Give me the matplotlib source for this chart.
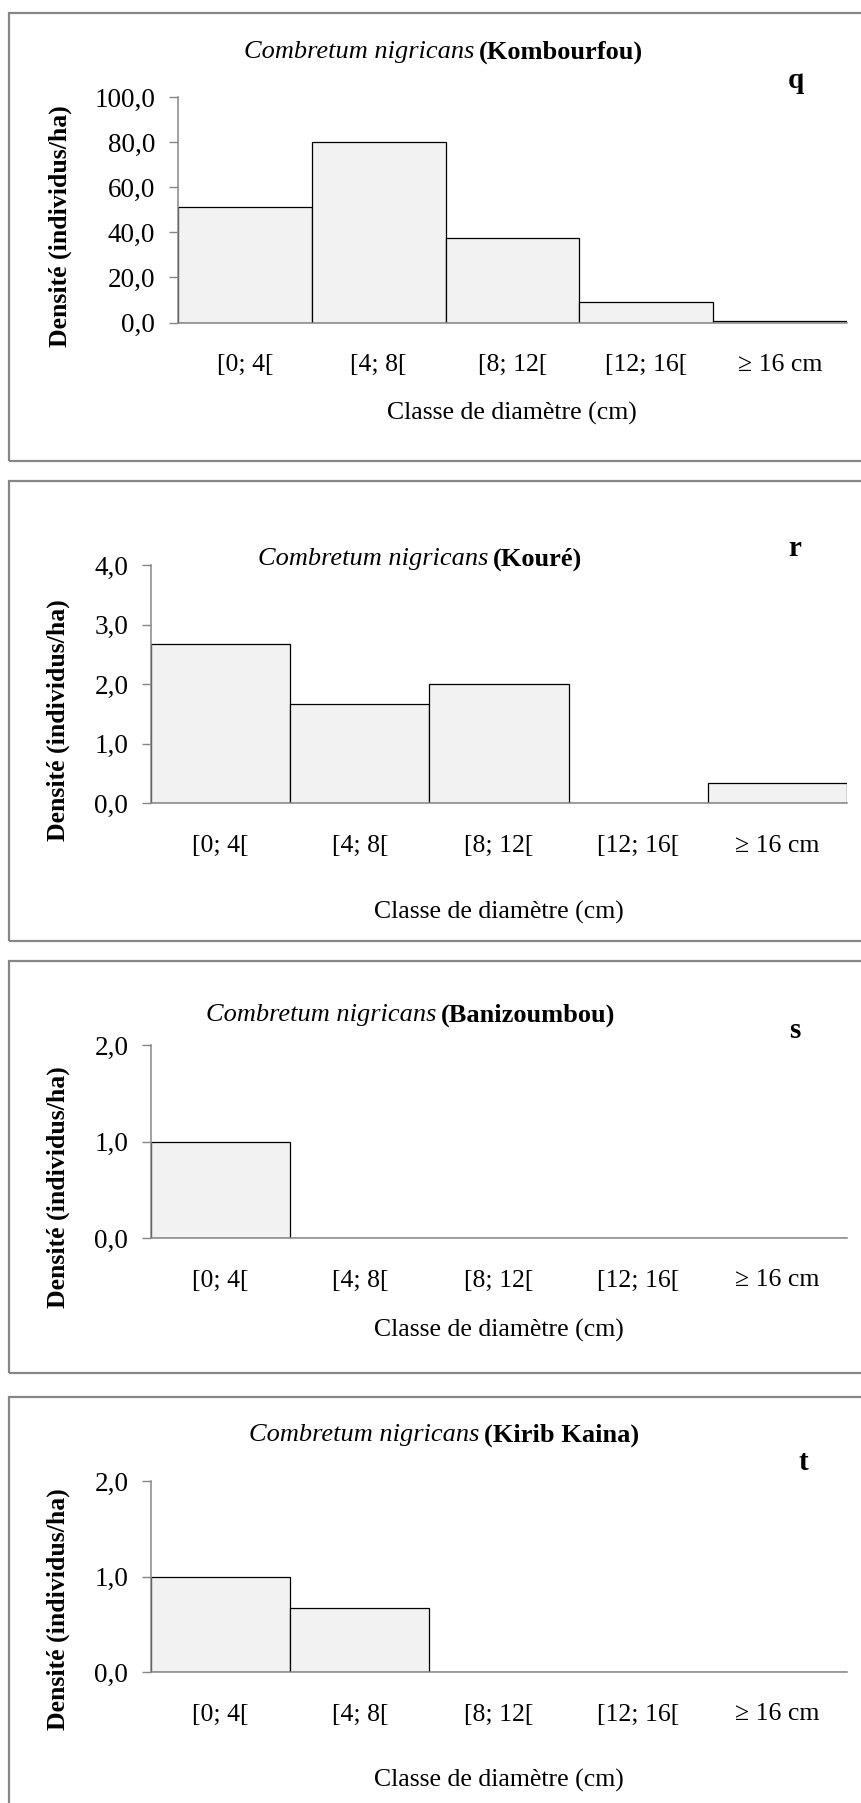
import matplotlib
matplotlib.use("Agg")
import matplotlib.pyplot as plt
from matplotlib.patches import Rectangle
from matplotlib.ticker import FuncFormatter

# Diameter classes and stem densities (individus/ha) per site
classes = ["[0; 4[", "[4; 8[", "[8; 12[", "[12; 16[", "\u2265 16 cm"]
kombourfou = [51.0, 80.0, 37.5, 9.0, 0.5]
koure = [2.67, 1.67, 2.0, 0.0, 0.33]
banizoumbou = [1.0, 0.0, 0.0, 0.0, 0.0]
kirib_kaina = [1.0, 0.67, 0.0, 0.0, 0.0]

sites = ["Kombourfou", "Kouré", "Banizoumbou", "Kirib Kaina"]
letters = ["q", "r", "s", "t"]
series = [kombourfou, koure, banizoumbou, kirib_kaina]
y_max = [100, 4, 2, 2]
y_step = [20, 1, 1, 1]

W, H = 861, 1803
DPI = 100
fig = plt.figure(figsize=(W / DPI, H / DPI), dpi=DPI)
fig.patch.set_facecolor("white")

SERIF = "Liberation Serif"
GREY = "#868686"
FS = 18.5


def fx(x):
    return x / W


def fy(y):
    return 1 - y / H


# panel layout in pixels: frame (top, bottom), axes (left, right, top, bottom)
frames = [(13, 461), (481, 941), (961, 1373), (1397, 1815)]
axes_px = [(178, 847, 97, 322.5), (151, 847, 565, 803),
           (151, 847, 1045, 1238), (151, 847, 1481, 1672)]
title_split = [(474, 52), (488, 559), (436, 1015), (479, 1435)]
letter_pos = [(796, 80), (795, 548), (795, 1030), (803, 1463)]
xlabel_pos = [(512, 413), (499, 912), (499, 1330), (499, 1780)]
ylabel_pos = [(60, 226), (58, 720), (58, 1187), (58, 1609)]

for i in range(4):
    top, bottom = frames[i]
    fig.patches.append(Rectangle((fx(9), fy(bottom)), fx(W + 20) - fx(9),
                                 fy(top) - fy(bottom), transform=fig.transFigure,
                                 facecolor="none", edgecolor=GREY, linewidth=1.6))

    l, r, t, b = axes_px[i]
    ax = fig.add_axes([fx(l), fy(b), fx(r) - fx(l), fy(t) - fy(b)])
    ax.set_facecolor("none")
    x = list(range(len(classes)))
    ax.bar(x, series[i], width=1.0, color="#F2F2F2", edgecolor="black",
           linewidth=0.9, zorder=1)
    ax.set_xlim(-0.5, len(classes) - 0.5)
    ax.set_ylim(0, y_max[i])
    ax.set_yticks([k * y_step[i] for k in range(int(y_max[i] / y_step[i]) + 1)])
    ax.yaxis.set_major_formatter(FuncFormatter(lambda v, p: f"{v:.1f}".replace(".", ",")))
    ax.set_xticks(x)
    ax.set_xticklabels(classes)
    for s in ["top", "right"]:
        ax.spines[s].set_visible(False)
    for s in ["left", "bottom"]:
        ax.spines[s].set_color(GREY)
        ax.spines[s].set_linewidth(1.1)
        ax.spines[s].set_zorder(3)
    ax.tick_params(axis="y", direction="out", length=6.3, width=1.0, color=GREY,
                   pad=10.0, labelsize=19.5)
    ax.tick_params(axis="x", length=0, pad=30.6, labelsize=FS)
    for lab in ax.get_xticklabels():
        lab.set_va("center")
        lab.set_family(SERIF)
    for lab in ax.get_yticklabels():
        lab.set_family(SERIF)

    sx, sy = title_split[i]
    fig.text(fx(sx), fy(sy), "Combretum nigricans", family=SERIF, style="italic",
             fontsize=19, ha="right", va="center")
    fig.text(fx(sx + 5), fy(sy), f"({sites[i]})", family=SERIF, fontweight="bold",
             fontsize=19, ha="left", va="center")

    lx, ly = letter_pos[i]
    fig.text(fx(lx), fy(ly), letters[i], family=SERIF, fontweight="bold",
             fontsize=21, ha="center", va="center")

    xx, xy = xlabel_pos[i]
    fig.text(fx(xx), fy(xy), "Classe de diamètre (cm)", family=SERIF,
             fontsize=FS, ha="center", va="center")

    yx, yy = ylabel_pos[i]
    fig.text(fx(yx), fy(yy), "Densité (individus/ha)", family=SERIF,
             fontweight="bold", fontsize=FS, rotation=90, ha="center", va="center")

fig.savefig("out.png", dpi=DPI, facecolor="white")
